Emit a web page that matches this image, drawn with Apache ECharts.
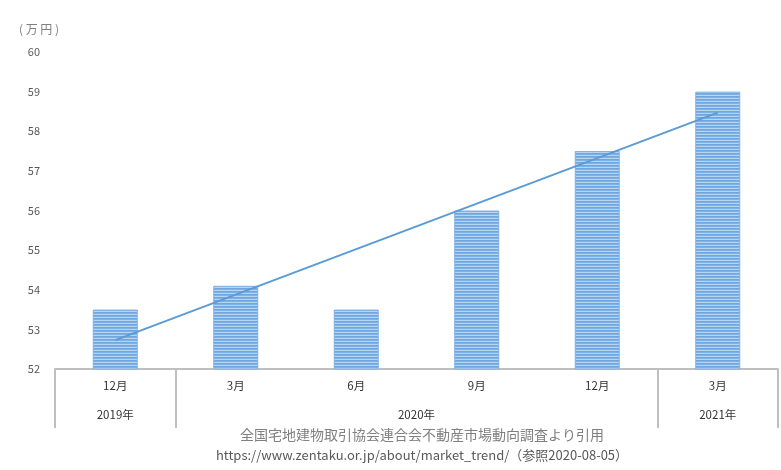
<!DOCTYPE html>
<html><head><meta charset="utf-8">
<script src="https://cdn.jsdelivr.net/npm/echarts@6/dist/echarts.min.js"></script>
<style>html,body{margin:0;padding:0;background:#fff}#c{width:781px;height:470px}</style>
</head><body><div id="c"></div>
<script>
const months = ['12月','3月','6月','9月','12月','3月'];
const values = [53.5, 54.1, 53.5, 56, 57.5, 59];
const trend = [52.73, null, null, null, null, 58.47];
const yearLabels = ['2019年','2020年','2021年'];
const yearSpans = [[0,1],[1,5],[5,6]];
const yTicks = [52, 60, 1];
const unit = '( 万 円 )';
const src1 = '全国宅地建物取引協会連合会不動産市場動向調査より引用';
const src2 = 'https://www.zentaku.or.jp/about/market_trend/（参照2020-08-05）';

const yearStarts = yearSpans.map(s => s[0]);
const cv = document.createElement('canvas');
cv.width = 4; cv.height = 3;
const cx = cv.getContext('2d');
cx.fillStyle = '#6ea6e0'; cx.fillRect(0,0,4,1);
cx.fillStyle = '#7eb1e7'; cx.fillRect(0,1,4,1);
cx.fillStyle = '#b8d5f2'; cx.fillRect(0,2,4,1);

const font = '"Noto Sans CJK JP", "Noto Sans", sans-serif';
const chart = echarts.init(document.getElementById('c'));
chart.setOption({
  animation: false,
  textStyle: {fontFamily: font},
  title: {
    text: src1, subtext: src2, left: 417, textAlign: 'center', top: 423, itemGap: 7,
    textStyle: {color: '#808080', fontSize: 14, fontWeight: 'normal', fontFamily: font},
    subtextStyle: {color: '#595959', fontSize: 13, fontFamily: font}
  },
  grid: {left: 55, right: 3, top: 52, bottom: 101},
  xAxis: [{
    type: 'category', data: months, position: 'bottom',
    axisLine: {lineStyle: {color: '#bfbfbf', width: 2}},
    axisTick: {show: true, length: 59, lineStyle: {color: '#bfbfbf', width: 2},
      interval: (i) => yearStarts.indexOf(i) >= 0},
    axisLabel: {color: '#333333', fontSize: 11.5, margin: 11, interval: 0}
  }, {
    type: 'value', min: 0, max: 6, interval: 0.5, position: 'bottom', offset: 29,
    axisLine: {show: false}, axisTick: {show: false}, splitLine: {show: false},
    axisLabel: {color: '#333333', fontSize: 11.5, margin: 11, showMinLabel: true, showMaxLabel: true,
      formatter: (v) => {
        for (let k = 0; k < yearSpans.length; k++) {
          if (Math.abs((yearSpans[k][0] + yearSpans[k][1]) / 2 - v) < 1e-6) return yearLabels[k];
        }
        return '';
      }}
  }],
  yAxis: {
    type: 'value', min: yTicks[0], max: yTicks[1], interval: yTicks[2],
    name: unit, nameGap: 17,
    nameTextStyle: {color: '#808080', fontSize: 12, align: 'center', padding: [0, 32, 0, 0]},
    axisLine: {show: false}, axisTick: {show: false}, splitLine: {show: false},
    axisLabel: {color: '#595959', fontSize: 11, margin: 15}
  },
  series: [{
    type: 'bar', data: values, barWidth: 45, xAxisIndex: 0,
    itemStyle: {color: {image: cv, repeat: 'repeat'}, borderColor: '#7fb0e4', borderWidth: 1}
  }, {
    type: 'line', data: trend, connectNulls: true, xAxisIndex: 0, symbol: 'none',
    lineStyle: {color: '#5b9bd5', width: 2}
  }]
});
</script></body></html>
